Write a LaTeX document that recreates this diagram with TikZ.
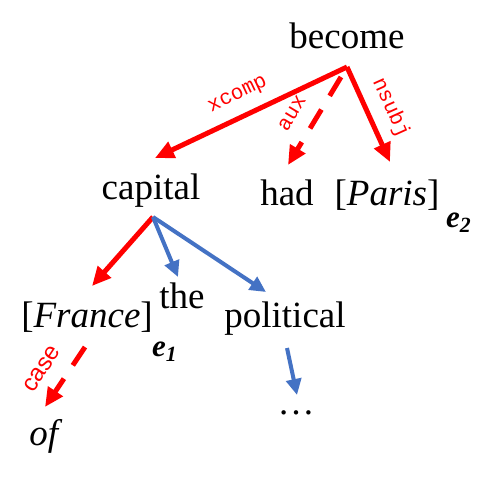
\documentclass[tikz,border=0pt]{standalone}
\usepackage{fontspec}
\setmainfont{Liberation Serif}
\newfontfamily\labelmono{Liberation Mono}
\newfontfamily\labelsans{Liberation Sans}
\usetikzlibrary{arrows.meta,calc}

\definecolor{depred}{RGB}{255,0,0}
\definecolor{depblue}{RGB}{68,114,196}

\begin{document}
\begin{tikzpicture}[x=1pt, y=-1pt,
  word/.style={font=\fontsize{37}{40}\selectfont, inner sep=0pt, anchor=base},
  tag/.style={font=\fontsize{31}{33}\selectfont\bfseries\itshape, inner sep=0pt, anchor=base west},
  redarr/.style={draw=depred, line width=5pt, -{Triangle[length=19pt,width=17pt]}},
  reddash/.style={redarr, dash pattern=on 22pt off 16pt},
  bluearr/.style={draw=depblue, line width=4pt, -{Triangle[length=16pt,width=15pt]}},
  lbl/.style={text=depred, font=\labelmono\fontsize{21}{21}\selectfont,
              inner sep=3pt, text height=11pt, text depth=4pt, sloped, above=8pt}]

  \useasboundingbox (0,0) rectangle (498,480);

  % words of the sentence, placed on their baselines
  \node[word] (become)    at (347,48)  {become};
  \node[word] (capital)   at (151,199) {capital};
  \node[word] (had)       at (287,205) {had};
  \node[word] (paris)     at (387,205) {[\textit{Paris}]};
  \node[tag]  (parisTag)  at (446,227) {e\textsubscript{2}};
  \node[word] (france)    at (87,327)  {[\textit{France}]};
  \node[tag]  (franceTag) at (152,356) {e\textsubscript{1}};
  \node[word] (the)       at (182,308) {the};
  \node[word] (political) at (285,327) {political};
  \node[word] (of)        at (46,445)  {\textit{of}};
  \node[word] (dots)      at (296,414) {\dots};

  % tails of the arrows, just under the head words
  \coordinate (becomeFoot)    at (347,67);
  \coordinate (auxFoot)       at (341,77);
  \coordinate (capitalFoot)   at (153,217);
  \coordinate (franceFoot)    at (85,347);
  \coordinate (politicalFoot) at (287,348);

  % red: dependencies on the path between the entities
  \draw[redarr]  (becomeFoot) -- node[lbl, pos=0.52] {xcomp} ($(capital.base)+(4,-41)$);
  \draw[reddash] (auxFoot)    -- node[lbl, pos=0.55] {aux}   ($(had.base)+(1,-40)$);
  \draw[redarr]  (becomeFoot) -- node[lbl, pos=0.53] {nsubj} ($(paris.base)+(3,-43)$);
  \draw[redarr]  (capitalFoot) -- ($(france.base)+(5,-41)$);
  \draw[reddash] (franceFoot) -- node[lbl, pos=0.58, font=\labelsans\fontsize{24}{24}\selectfont] {case}
                                 ($(of.base)+(-1,-38)$);

  % blue: the rest of the tree
  \draw[bluearr] (capitalFoot)   -- ($(the.base)+(-4,-31)$);
  \draw[bluearr] (capitalFoot)   -- ($(political.base)+(-19,-35)$);
  \draw[bluearr] (politicalFoot) -- ($(dots.base)+(1,-19)$);
\end{tikzpicture}
\end{document}
